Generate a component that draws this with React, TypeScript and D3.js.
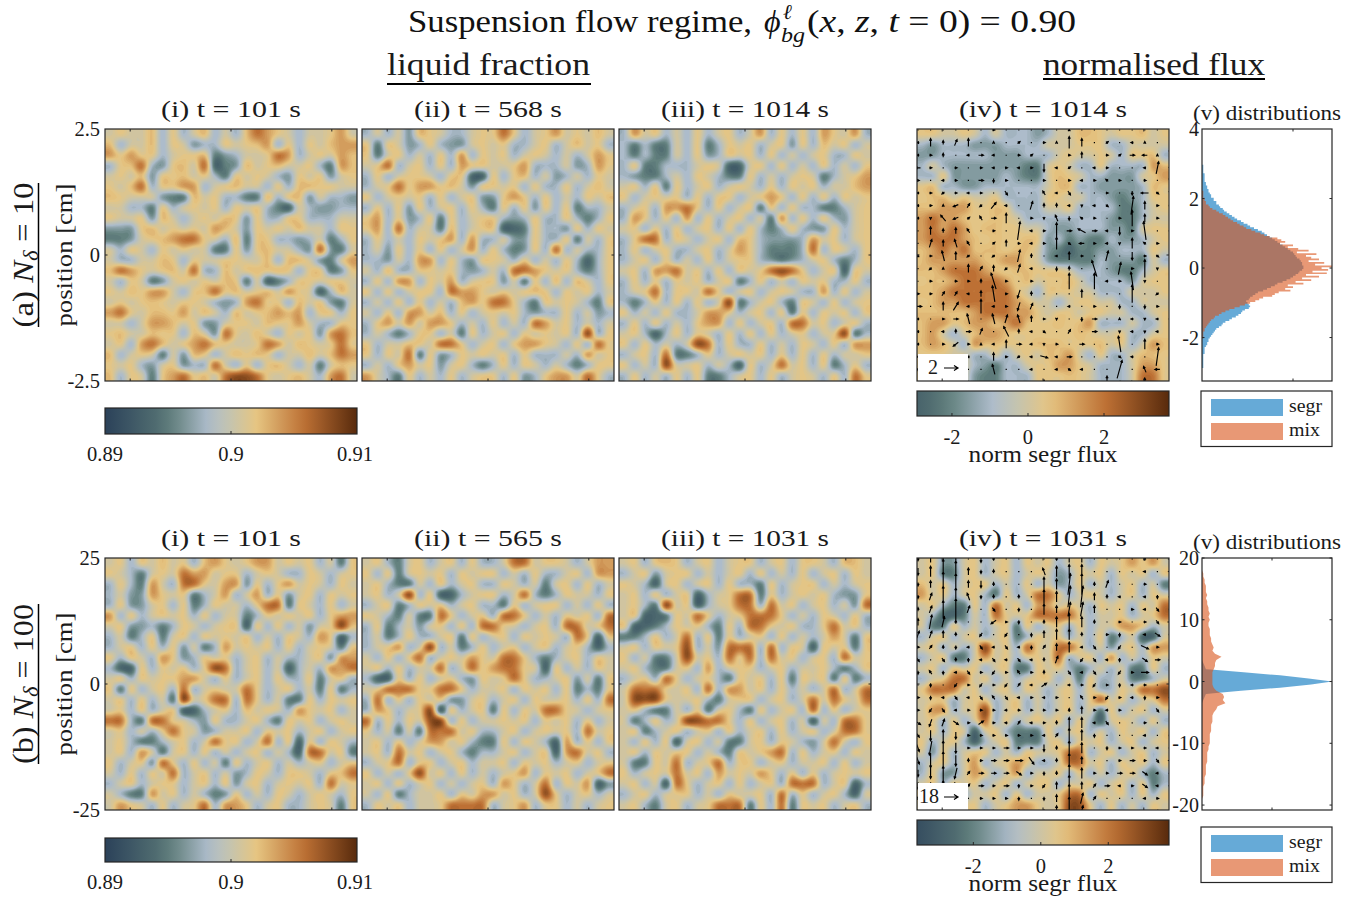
import React from "react";
import * as d3 from "d3";

// colormap, position along the bar -> colour
const cmapStops = [0, 0.2, 0.27, 0.41, 0.5, 0.6, 0.79, 1];
const cmapColors = ["#2b4159", "#4f6b70", "#64827f", "#adbccb", "#c6c4ad", "#e6c582", "#bd7034", "#582a0c"];
// digit in a grid row -> position on the colormap
const levels = [0.18, 0.26, 0.33, 0.4, 0.53, 0.585, 0.62, 0.69, 0.78, 0.88];

const fluidA1 = [
  "454463534634368754344574",
  "634463542335456735354677",
  "757553455612344587345476",
  "356832564801264564453176",
  "454625564531545432545245",
  "546835577345644353665544",
  "654442116453311635624332",
  "443315345453545310432233",
  "544526434546525335533344",
  "222564545476425454644355",
  "112456788543615533234135",
  "435435454411525644328214",
  "433446535445544636642147",
  "687545648336456565355125",
  "435412454546514013554554",
  "546577435685645647540364",
  "454565455432378553645214",
  "785466574643645676735535",
  "443477645224554655743355",
  "564465536428546435452786",
  "453786457865445874654585",
  "634541426534656534464687",
  "545324523384353564341465",
  "635415785648998545643784",
];
const fluidA2 = [
  "343426 543345 585345 745464",
  "515423 532245 453345 346453",
  "514534 353735 453454 343475",
  "458345 353755 445733 342375",
  "353455 435500 535634 234354",
  "345857 756425 545353 353464",
  "534545 353452 257535 343546",
  "353525 345353 153525 351334",
  "573523 515345 532353 353135",
  "573834 416345 500153 325354",
  "353435 457373 342253 351435",
  "342535 353473 531253 834335",
  "332437 735325 543534 353035",
  "436335 545323 438875 453135",
  "353773 547345 524153 636435",
  "535345 538775 454565 354534",
  "343535 343675 885315 454315",
  "435377 463534 545323 353423",
  "357474 775343 534387 453434",
  "343135 534153 453545 453935",
  "534465 488534 535775 435385",
  "535481 523545 453533 343745",
  "343574 524531 353543 431355",
  "743153 435345 535235 774853",
];
const fluidA3 = [
  "374534 353453 473535 375473",
  "313114 351354 534525 364534",
  "313114 352354 535343 453354",
  "351133 345400 453534 353435",
  "321134 354311 534345 413457",
  "453515 345345 435354 534467",
  "534545 353553 457535 353545",
  "345377 853534 515353 311345",
  "375353 735345 341735 353245",
  "453535 345353 531353 225345",
  "358835 434536 532223 745345",
  "353453 345347 531113 835435",
  "345353 435345 532123 453135",
  "453778 453535 458985 345054",
  "353535 453451 353435 453353",
  "345835 548534 534543 373534",
  "313535 353491 345315 435345",
  "534353 347753 453515 354535",
  "353534 357735 345388 453453",
  "453035 354353 535345 345913",
  "535343 498353 353435 435377",
  "345381 135345 453535 353445",
  "534394 453430 534845 351353",
  "353435 351134 535345 435385",
];
const fluidAFlux = [
  "554454343332344665455645",
  "323332223333444555334444",
  "223333322233345445435563",
  "343222222211454335333376",
  "335222223211465433222457",
  "563322333333466332222365",
  "566454453333554433212355",
  "667775565333445333311345",
  "787765565433333333211344",
  "787875665544322333221455",
  "788876565565231211322345",
  "678786665664210112233354",
  "677777667754211113222143",
  "667888765665554333211345",
  "566788887564556433332455",
  "667888888643555443334445",
  "567788888764434554433444",
  "666667888775455455443345",
  "677567767865565673334335",
  "674346776555555654453345",
  "676437665556665556453476",
  "555443343454667435334665",
  "555443213345577543334775",
  "555442113335556543334885",
];
const fluidB1 = [
  "453546 453675 457745 453415",
  "543145 487745 534543 354345",
  "353174 388547 725357 454354",
  "342275 451347 347352 453545",
  "352245 351354 435881 543534",
  "735345 453534 413545 453577",
  "452231 354345 505353 424596",
  "341351 453545 453435 437503",
  "345353 524137 454535 345415",
  "535437 523545 345343 345277",
  "300535 453598 345340 343778",
  "453545 577435 345353 351453",
  "515345 383454 485345 341513",
  "453534 194588 385341 153545",
  "453534 500345 364543 754534",
  "883188 543253 345315 453454",
  "453435 854234 453545 345345",
  "453113 453485 534835 053543",
  "453741 453534 345343 088451",
  "534528 535341 534534 345345",
  "435354 834534 235435 543568",
  "345345 534535 245345 453845",
  "431174 534312 534354 345435",
  "475435 345837 753453 345415",
];
const fluidB2 = [
  "453145 345353 348845 543477",
  "535145 453545 534353 345377",
  "453114 353453 354341 453534",
  "453493 500345 534831 354435",
  "345135 453453 315345 534353",
  "543141 185345 388534 354538",
  "351342 453538 854345 388458",
  "341353 345153 453545 438505",
  "345734 934135 345345 345303",
  "435358 345475 488531 345354",
  "453534 483485 788540 534354",
  "300535 345325 458533 452415",
  "458885 588534 453545 351315",
  "383535 452245 345354 453538",
  "375345 905345 153548 854345",
  "835354 993534 454535 453534",
  "534141 888453 345345 453845",
  "453534 774531 153543 073535",
  "453845 345313 345345 078453",
  "345835 534534 453545 345345",
  "534359 453534 345735 453458",
  "453534 534345 375348 354702",
  "435134 453547 745349 534534",
  "354534 458888 345735 534345",
];
const fluidB3 = [
  "453565 345345 534535 543664",
  "345245 534345 353435 345354",
  "543045 345353 315345 534345",
  "453534 503458 815345 453225",
  "453194 503458 838453 453428",
  "450015 485345 888534 354353",
  "500135 453153 885453 358453",
  "113534 835153 453534 347415",
  "453545 934288 838354 054515",
  "534114 945385 838453 453845",
  "453114 537345 534534 453135",
  "345385 345315 453515 451513",
  "488854 538377 453534 348348",
  "499954 453145 534534 848548",
  "453114 351453 153453 835345",
  "413534 998853 534534 043885",
  "451345 345353 453534 534885",
  "435350 453411 453543 248435",
  "453545 534315 457835 345354",
  "411548 345835 534534 453534",
  "534548 453745 475353 534545",
  "453408 534535 345388 834503",
  "345345 534354 453835 345304",
  "453145 345888 153815 453453",
];
const fluidBFlux = [
  "452245 345354 534535 457574",
  "451145 345345 423545 354535",
  "645345 534353 423534 345341",
  "745345 315348 853454 345354",
  "453115 384537 745435 453548",
  "430014 385458 888534 453458",
  "411534 345153 453534 477534",
  "345345 345135 453435 134004",
  "453434 945385 488534 245377",
  "345114 745345 483453 734354",
  "453545 345115 453134 341153",
  "345884 534345 534153 341134",
  "588845 345354 345353 354889",
  "455345 534534 345358 453458",
  "477345 934534 345341 534534",
  "453534 835345 453530 454353",
  "453540 453111 534534 354535",
  "534530 345111 453545 345345",
  "425345 534354 458834 534534",
  "345347 345753 348845 354535",
  "352247 534734 453534 345313",
  "453545 345345 534453 453513",
  "534534 453534 458835 453535",
  "435345 345775 459953 534354",
];

// arrows, one char per component: 0-9 positive, a-i negative
const quiverRowsAU = [
  "000000100000000000000",
  "a0010000101000010a000",
  "a100a2a01100100112b00",
  "b10101a1a10a10a100a10",
  "10a1020100101a1a10100",
  "a1a1a10100aa100100c10",
  "a10b1a2a0100a0a101011",
  "a0bb1a20010a0a1010010",
  "0000a0101a102c2a01a01",
  "010aa0101a101b1a00a10",
  "01a0a0a0100a01010011",
  "0a00010a1a0000b011000",
  "010110b10100000a1a000",
  "1111a0a1a0000000000a0",
  "3002a0a1a100a01000010",
  "a012a0a1a01000200a0a1",
  "a0a0210b0a1010200a0a0",
  "a01b10a02a010200a0010",
  "a0a0a001aa3a20001a010",
  "011000a00a0a1a0020ab0",
  "0000100000000000a1000",
];
const quiverRowsAV = [
  "000000000000100000000",
  "042340101001640100100",
  "002000000100030010016",
  "0000000000d0100000062",
  "000000b00000000100003",
  "00a0000b0020b0000b0a3",
  "001a2a3004220a0a09400",
  "0a3a120500a3b10008400",
  "0423200090080200d0900",
  "043420130006a000a5100",
  "1054a0a0620040050d0a0",
  "0a10423a400b2080609a0",
  "000002800000808009a00",
  "00220380d2000400090a0",
  "00440700d3000000b0b00",
  "00005054430a0b0010a00",
  "0002030520a02000a0a00",
  "000b010400a0000080500",
  "00a00040a0a00000a0090",
  "a00000500000a00090300",
  "000000010020000600400",
];
const quiverRowsBU = [
  "00000000000000000000a",
  "0000000000a0000000a0a",
  "000000000000100100100",
  "0100a00000001100a0a01",
  "010010100000110001a11",
  "011000b10000000010112",
  "11000a0a0000000100a21",
  "1100a1a1a0100a10a0310",
  "10100a1a1a010a1a00221",
  "0a0a11a1a1001a10a1300",
  "000a1a1a1a20a1a10a100",
  "10a1a1a1a1a10a1a1a011",
  "1a1a111a1111001a10011",
  "2a12121a1a1000a100100",
  "1000111111a1000000a01",
  "1a00111211000000111a1",
  "1000012232a000001211a",
  "000a122221000011222a0",
  "0001121201a00012a12a0",
  "100101110000011000a10",
  "0001001000000100000a0",
];
const quiverRowsBV = [
  "a2370b100001220000100",
  "b3762a100023440000000",
  "a2762b100043661200000",
  "a2652a1010436621000a0",
  "125620a0a0324420000a0",
  "243100a0a0135310000a0",
  "22210a0a0a233100a00a0",
  "011a0a0a0a1230a0a0a00",
  "a0a1a0a0a0120aa0a0a00",
  "a1a0a0a01010a0a0a0000",
  "0a0a0a0a101000a0a0000",
  "0a0a0a1a0000010a00a00",
  "0aa0000000001200000a0",
  "ab2a01001001330a00000",
  "ac3b0000000143a000000",
  "bd4c000000b1430a00000",
  "bd5c10000b014200000a0",
  "bc4c1000a0a1530000a0a",
  "bb3b1000a0a2621000a0a",
  "ab2a0000a0a2831000000",
  "ab1a0000a0a3830000000",
];

const histBinsA = d3.range(125).map((i) => +(3 - i * 0.05).toFixed(2));
const segrA = [
  0, 0, 1, 1, 1, 1, 1, 2, 2, 2, 2, 2, 3, 3, 4, 4, 5, 5, 6, 7, 7, 9, 9, 11, 11, 13, 14, 16, 17, 19, 21, 23, 25, 27, 30,
  32, 35, 37, 40, 43, 46, 48, 50, 52, 54, 56, 58, 60, 62, 64, 66, 68, 70, 71, 72, 73, 75, 76, 77, 77, 78, 78, 77, 75,
  74, 72, 70, 68, 65, 62, 58, 56, 53, 50, 47, 43, 41, 39, 37, 36, 34, 35, 36, 37, 36, 33, 31, 30, 28, 26, 23, 21, 18,
  16, 15, 13, 11, 10, 9, 8, 7, 6, 5, 5, 4, 4, 3, 2, 2, 2, 2, 1, 1, 1, 1, 1, 1, 1, 1, 0, 0, 0, 0, 0, 0,
];
const mixA = [
  0, 0, 0, 0, 0, 0, 0, 0, 0, 0, 0, 0, 0, 0, 0, 0, 0, 1, 1, 1, 1, 2, 2, 3, 3, 5, 6, 8, 11, 13, 16, 18, 20, 22, 24, 27,
  29, 32, 34, 38, 41, 45, 48, 52, 58, 61, 64, 60, 70, 66, 74, 82, 73, 88, 80, 84, 90, 82, 94, 87, 100, 92, 97, 85, 96,
  80, 90, 77, 84, 72, 78, 66, 70, 64, 68, 59, 56, 54, 47, 44, 41, 37, 33, 29, 25, 21, 18, 15, 13, 10, 9, 7, 6, 5, 4,
  3, 2, 2, 1, 1, 1, 1, 0, 0, 0, 0, 0, 0, 0, 0, 0, 0, 0, 0, 0, 0, 0, 0, 0, 0, 0, 0, 0, 0, 0,
];
const segrBinsB = [3.5, 3, 2.5, 2, 1.9, 1.5, 1, 0.5, 0, -0.5, -1, -1.5, -1.9, -2, -2.5, -3, -3.5];
const segrB = [0, 1, 2, 3, 9, 32, 60, 82, 100, 84, 60, 30, 9, 3, 2, 1, 0];
const histBinsB = d3.range(81).map((i) => 20 - i * 0.5);
const mixB = [
  0, 0, 0, 0, 0, 1, 1, 2, 2, 3, 3, 3, 4, 3, 4, 4, 5, 5, 6, 5, 6, 5, 5, 6, 6, 6, 7, 7, 8, 9, 8, 10, 15, 11, 10, 10, 9,
  8, 8, 8, 8, 8, 9, 11, 16, 17, 16, 18, 12, 11, 9, 8, 8, 8, 7, 7, 7, 6, 6, 6, 6, 5, 5, 4, 4, 4, 4, 3, 3, 3, 3, 2, 2,
  2, 1, 1, 1, 1, 0, 0, 0,
];

const rowTop = [129, 558];
const panelX = [105, 362, 619];
const fluxX = 917;
const histX = 1202;
const side = 252;
const histW = 130;

const font = "'Liberation Serif', serif";
const ink = "#262626";
const gridUp = 5;

const cmap = d3.scaleLinear<string>().domain(cmapStops).range(cmapColors);

const keys = (s: string) => (s.match(/[0-9a-i]/g) || []).map((c) => (c >= "a" ? -(c.charCodeAt(0) - 96) : +c));

function catmull(a: number, b: number, c: number, d: number, t: number) {
  return 0.5 * (2 * b + (c - a) * t + (2 * a - 5 * b + 4 * c - d) * t * t + (3 * b - a - 3 * c + d) * t * t * t);
}

// rows of digits -> smooth field, filled contours through d3.contours
function Heat({ rows, x, y }: { rows: string[]; x: number; y: number }) {
  const n = rows.length;
  const g = rows.map((r) => {
    const digits = r.replace(/\s/g, "");
    return d3.range(n).map((i) => levels[+(digits[i] ?? "4")]);
  });
  const at = (j: number, i: number) => g[Math.max(0, Math.min(n - 1, j))][Math.max(0, Math.min(n - 1, i))];
  const w = n * gridUp;
  const vals = new Array(w * w);
  for (let py = 0; py < w; py++) {
    const fy = (py + 0.5) / gridUp - 0.5;
    const j = Math.floor(fy);
    for (let px = 0; px < w; px++) {
      const fx = (px + 0.5) / gridUp - 0.5;
      const i = Math.floor(fx);
      const col = [-1, 0, 1, 2].map((o) =>
        catmull(at(j + o, i - 1), at(j + o, i), at(j + o, i + 1), at(j + o, i + 2), fx - i),
      );
      vals[py * w + px] = catmull(col[0], col[1], col[2], col[3], fy - j);
    }
  }
  const thresholds = d3.range(0.08, 1, 0.02);
  const cs = d3.contours().size([w, w]).thresholds(thresholds)(vals);
  const path = d3.geoPath(d3.geoTransform({
    point(px, py) {
      this.stream.point((px / w) * side, (py / w) * side);
    },
  }));
  return (
    <g transform={`translate(${x},${y})`}>
      <rect width={side} height={side} fill={cmap(0.08)} />
      {cs.map((c, i) => (
        <path key={i} d={path(c as any) || ""} fill={cmap(c.value + 0.01)} />
      ))}
    </g>
  );
}

function Frame({ x, y, w, h, xTicks, yTicks }: { x: number; y: number; w: number; h: number; xTicks: number[]; yTicks: number[] }) {
  return (
    <g stroke={ink} strokeWidth={1}>
      <rect x={x} y={y} width={w} height={h} fill="none" strokeWidth={1.2} />
      {xTicks.map((t) => (
        <g key={t}>
          <line x1={t} x2={t} y1={y} y2={y + 2.5} />
          <line x1={t} x2={t} y1={y + h} y2={y + h - 2.5} />
        </g>
      ))}
      {yTicks.map((t) => (
        <g key={t}>
          <line x1={x} x2={x + 2.5} y1={t} y2={t} />
          <line x1={x + w} x2={x + w - 2.5} y1={t} y2={t} />
        </g>
      ))}
    </g>
  );
}

function Label({ x, y, size = 20, anchor = "middle", len, children, rotate }: any) {
  return (
    <text
      x={rotate ? 0 : x}
      y={rotate ? 0 : y}
      transform={rotate ? `translate(${x},${y}) rotate(-90)` : undefined}
      fontFamily={font}
      fontSize={size}
      textAnchor={anchor}
      fill="#1a1a1a"
      textLength={len}
      lengthAdjust={len ? "spacingAndGlyphs" : undefined}
    >
      {children}
    </text>
  );
}

function Quiver({ id, us, vs, unitU, unitV, x, y }: { id: string; us: string[]; vs: string[]; unitU: number; unitV: number; x: number; y: number }) {
  const pos = d3.scalePoint<number>().domain(d3.range(21)).range([0, side]);
  const marks: string[] = [];
  vs.forEach((row, j) => {
    const v = keys(row);
    const u = keys(us[j]);
    d3.range(21).forEach((i) => {
      const dx = (u[i] || 0) * unitU;
      const dy = -(v[i] || 0) * unitV;
      const cx = pos(i)! + 1;
      const cy = pos(j)! + 1;
      const len = Math.hypot(dx, dy);
      if (len === 0) {
        marks.push(`M${cx - 0.6},${cy}h1.2`);
        return;
      }
      const ex = cx + dx / 2;
      const ey = cy + dy / 2;
      const ux = dx / len;
      const uy = dy / len;
      marks.push(`M${cx - dx / 2},${cy - dy / 2}L${ex},${ey}`);
      marks.push(`M${ex - ux * 2.2 - uy * 1.1},${ey - uy * 2.2 + ux * 1.1}L${ex},${ey}L${ex - ux * 2.2 + uy * 1.1},${ey - uy * 2.2 - ux * 1.1}`);
    });
  });
  return (
    <g transform={`translate(${x},${y})`}>
      <clipPath id={id}>
        <rect width={side} height={side} />
      </clipPath>
      <path d={marks.join("")} fill="none" stroke="#000" strokeWidth={1.15} clipPath={`url(#${id})`} />
    </g>
  );
}

function Colorbar({ id, x, y, w, h, from }: { id: string; x: number; y: number; w: number; h: number; from: number }) {
  const offs = d3.range(0, 1.001, 0.05);
  const bar = d3.scaleLinear().domain([0, 1]).range([from, 1]);
  return (
    <g>
      <defs>
        <linearGradient id={id}>
          {offs.map((o) => (
            <stop key={o} offset={o} stopColor={cmap(bar(o))} />
          ))}
        </linearGradient>
      </defs>
      <rect x={x} y={y} width={w} height={h} fill={`url(#${id})`} stroke={ink} strokeWidth={1.2} />
    </g>
  );
}

function Hist({ top, segrBins, mixBins, segr, mix, domain, ticks, shift, curve, xTick, legendY }: any) {
  const y = d3.scaleLinear().domain(domain).range([top + side, top]);
  const x = d3.scaleLinear().domain([0, 100]).range([histX, histX + histW]);
  const area = (bins: number[]) =>
    (d3 as any)
      .area()
      .curve(curve)
      .y((_: any, i: number) => y(bins[i] + shift))
      .x0(x(0))
      .x1((d: number) => x(d));
  return (
    <g>
      <path d={area(segrBins)(segr)} fill="#0072BD" fillOpacity={0.6} />
      <path d={area(mixBins)(mix)} fill="#D95319" fillOpacity={0.6} />
      <Frame x={histX} y={top} w={histW} h={side} xTicks={[xTick]} yTicks={ticks.map((t: number) => y(t))} />
      {ticks.map((t: number) => (
        <Label key={t} x={1199} y={y(t) + 7} anchor="end">{t}</Label>
      ))}
      <rect x={histX - 1} y={legendY} width={histW + 1} height={55.5} fill="#fff" stroke={ink} strokeWidth={1.2} />
      <rect x={1211} y={legendY + 8} width={72} height={17} fill="#0072BD" fillOpacity={0.6} />
      <rect x={1211} y={legendY + 32} width={72} height={17} fill="#D95319" fillOpacity={0.6} />
      <Label x={1289} y={legendY + 21} size={18} anchor="start" len={33}>segr</Label>
      <Label x={1289} y={legendY + 45} size={18} anchor="start" len={31}>mix</Label>
    </g>
  );
}

const fluidRows = [
  [fluidA1, fluidA2, fluidA3],
  [fluidB1, fluidB2, fluidB3],
];
const timesLeft = [
  ["(i) t = 101 s", "(ii) t = 568 s", "(iii) t = 1014 s"],
  ["(i) t = 101 s", "(ii) t = 565 s", "(iii) t = 1031 s"],
];
const timesFlux = ["(iv) t = 1014 s", "(iv) t = 1031 s"];
const yTickLabels = [["2.5", "0", "-2.5"], ["25", "0", "-25"]];
const cbTickLabels = ["0.89", "0.9", "0.91"];
const fluxTicks = [-2, 0, 2];
const fluxDomains = [[-2.92, 3.71], [-3.67, 3.8]];
const rangeA = [-2.5, 2.5];
const rangeB = [-25, 25];

export default function App() {
  return (
    <svg width={1368} height={900} style={{ position: "absolute", left: 0, top: 0, background: "#fff" }}>
      <text x={408} y={32} fontFamily={font} fontSize={32} fill="#111" textLength={344} lengthAdjust="spacingAndGlyphs">
        Suspension flow regime,
      </text>
      <text x={764} y={32} fontFamily={font} fontSize={32} fontStyle="italic" fill="#111">ϕ</text>
      <text x={783} y={19} fontFamily={font} fontSize={21} fontStyle="italic" fill="#111">ℓ</text>
      <text x={781} y={42} fontFamily={font} fontSize={22} fontStyle="italic" fill="#111" textLength={24} lengthAdjust="spacingAndGlyphs">bg</text>
      <text x={807} y={32} fontFamily={font} fontSize={32} fill="#111" textLength={269} lengthAdjust="spacingAndGlyphs">
        (<tspan fontStyle="italic">x</tspan>, <tspan fontStyle="italic">z</tspan>, <tspan fontStyle="italic">t</tspan> = 0) = 0.90
      </text>

      <Label x={387} y={75} size={32} anchor="start" len={203}>liquid fraction</Label>
      <rect x={387} y={83} width={204} height={2} fill="#000" />
      <Label x={1043} y={75} size={32} anchor="start" len={222}>normalised flux</Label>
      <rect x={1043} y={78} width={222} height={2} fill="#000" />

      {[0, 1].map((r) => {
        const top = rowTop[r];
        const y = d3.scaleLinear().domain(r === 0 ? rangeA : rangeB).range([top + side, top]);
        const xt = d3.scaleLinear().domain(r === 0 ? rangeA : rangeB).range([0, side]);
        const xTickVals = (r === 0 ? [-2, 0, 2] : [-20, 0, 20]).map((t) => xt(t));
        const yVals = r === 0 ? [2.5, 0, -2.5] : [25, 0, -25];
        const fluxScale = d3.scaleLinear().domain(fluxDomains[r]).range([fluxX, fluxX + side]);
        const cbTop = r === 0 ? 408 : 838;
        const fluxTop = r === 0 ? 391 : 820;
        const titleY = top - 12;
        const keyTop = r === 0 ? 354 : 783;
        return (
          <g key={r}>
            {panelX.map((px, c) => (
              <g key={c}>
                <Heat rows={fluidRows[r][c]} x={px} y={top} />
                <Frame x={px} y={top} w={side} h={side} xTicks={xTickVals.map((t) => px + t)} yTicks={[y(0)]} />
                <Label x={px + side / 2} y={titleY} size={24} len={c === 0 ? 140 : c === 1 ? 148 : 168}>{timesLeft[r][c]}</Label>
              </g>
            ))}
            {yVals.map((t, i) => (
              <Label key={t} x={100} y={y(t) + 7} anchor="end" size={20.5}>{yTickLabels[r][i]}</Label>
            ))}

            <Colorbar id={`phi${r}`} x={105} y={cbTop} w={side} h={r === 0 ? 26 : 24} from={0} />
            <line x1={231} x2={231} y1={cbTop + (r === 0 ? 26 : 24)} y2={cbTop + (r === 0 ? 23 : 21)} stroke={ink} />
            {cbTickLabels.map((l, i) => (
              <Label key={l} x={[105, 231, 355][i]} y={cbTop + 53 - (r === 1 ? 2 : 0)} size={20.5}>{l}</Label>
            ))}

            <Heat rows={r === 0 ? fluidAFlux : fluidBFlux} x={fluxX} y={top} />
            {r === 0 ? (
              <Quiver id="quivA" us={quiverRowsAU} vs={quiverRowsAV} unitU={2.5} unitV={2} x={fluxX} y={top} />
            ) : (
              <Quiver id="quivB" us={quiverRowsBU} vs={quiverRowsBV} unitU={2.5} unitV={3.5} x={fluxX} y={top} />
            )}
            <rect x={fluxX + 1} y={keyTop} width={50} height={top + side - keyTop} fill="#fff" />
            <Label x={r === 0 ? 928 : 919} y={keyTop + 20} size={20} anchor="start">{r === 0 ? "2" : "18"}</Label>
            <path d={`M944,${keyTop + 14}H957M954,${keyTop + 11.5}L958,${keyTop + 14}L954,${keyTop + 16.5}`} stroke="#000" strokeWidth={1.2} fill="none" />
            <Frame x={fluxX} y={top} w={side} h={side} xTicks={xTickVals.map((t) => fluxX + t)} yTicks={[y(0)]} />
            <Label x={fluxX + 126} y={titleY} size={24} len={168}>{timesFlux[r]}</Label>

            <Colorbar id={`flux${r}`} x={fluxX} y={fluxTop} w={side} h={25} from={r === 0 ? 0.16 : 0.06} />
            {fluxTicks.map((t) => (
              <g key={t}>
                <line x1={fluxScale(t)} x2={fluxScale(t)} y1={fluxTop + 25} y2={fluxTop + 22} stroke={ink} />
                <Label x={fluxScale(t)} y={fluxTop + 53} size={20.5}>{t}</Label>
              </g>
            ))}
            <Label x={1043} y={fluxTop + 71} size={24} len={149}>norm segr flux</Label>

            <Label x={1267} y={top - 9} size={21} len={148}>(v) distributions</Label>
          </g>
        );
      })}

      <Hist top={129} segrBins={histBinsA} mixBins={histBinsA} segr={segrA} mix={mixA} shift={0.025} curve={d3.curveStepAfter} domain={[-3.25, 4]} ticks={[2, 0, -2]} xTick={1293} legendY={391} />
      <Label x={1199} y={136} anchor="end">4</Label>
      <Hist top={558} segrBins={segrBinsB} mixBins={histBinsB} segr={segrB} mix={mixB} shift={0} curve={d3.curveLinear} domain={[-20.8, 20]} ticks={[20, 10, 0, -10, -20]} xTick={1272} legendY={827} />

      <Label x={33} y={255} size={30} rotate len={145}>
        (a) <tspan fontStyle="italic">N</tspan><tspan fontStyle="italic" fontSize={21} dy={5}>δ</tspan><tspan dy={-5}> = 10</tspan>
      </Label>
      <line x1={38.5} x2={38.5} y1={183} y2={327} stroke="#000" strokeWidth={1.5} />
      <Label x={72} y={255} size={24} rotate len={143}>position [cm]</Label>
      <Label x={33} y={684} size={30} rotate len={160}>
        (b) <tspan fontStyle="italic">N</tspan><tspan fontStyle="italic" fontSize={21} dy={5}>δ</tspan><tspan dy={-5}> = 100</tspan>
      </Label>
      <line x1={38.5} x2={38.5} y1={604} y2={764} stroke="#000" strokeWidth={1.5} />
      <Label x={72} y={684} size={24} rotate len={143}>position [cm]</Label>
    </svg>
  );
}
